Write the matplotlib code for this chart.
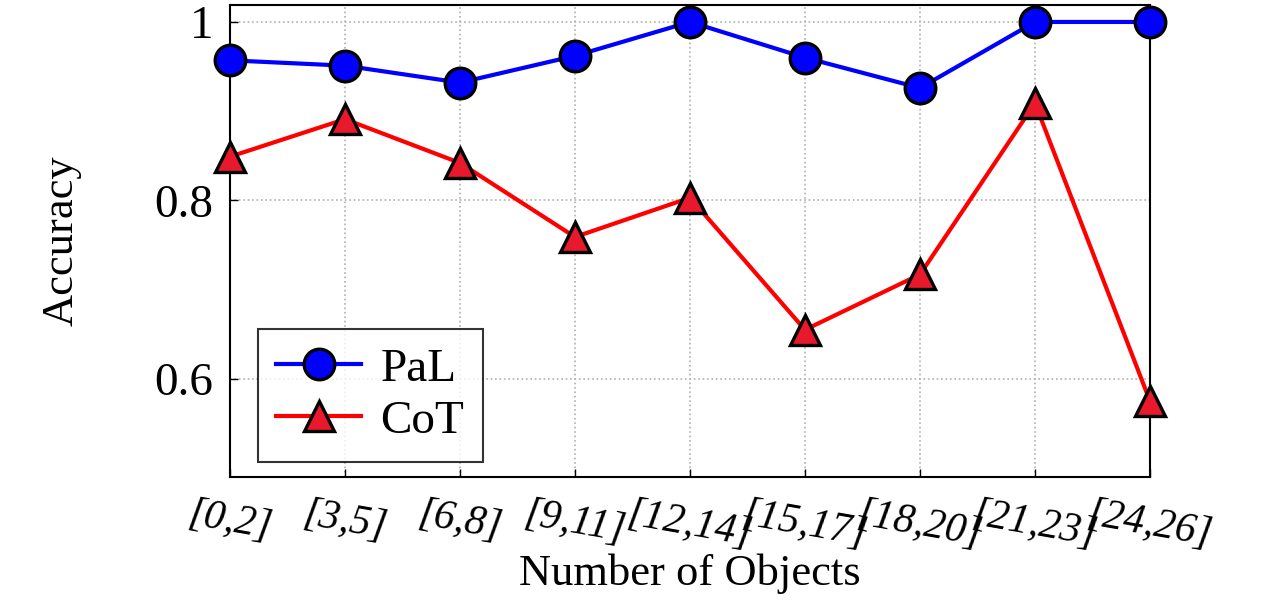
import matplotlib.pyplot as plt

plt.rcParams['font.family'] = ['Liberation Serif', 'DejaVu Serif']

bins = ["[0,2]", "[3,5]", "[6,8]", "[9,11]", "[12,14]", "[15,17]", "[18,20]", "[21,23]", "[24,26]"]
pal = [0.957, 0.951, 0.932, 0.962, 1.0, 0.960, 0.926, 1.0, 1.0]
cot = [0.849, 0.891, 0.842, 0.759, 0.803, 0.655, 0.717, 0.909, 0.575]

fig = plt.figure(figsize=(12.81, 6.06), dpi=100)
ax = fig.add_axes([230 / 1281, 1 - 477 / 606, (1150 - 230) / 1281, (477 - 5) / 606])

x = list(range(len(bins)))
ax.plot(x, pal, color='blue', lw=3, marker='o', ms=22, mfc='blue', mec='black', mew=2.4,
        label='PaL', clip_on=False, zorder=3)
ax.plot(x, cot, color='red', lw=3, marker='^', ms=22, mfc='#e8192c', mec='black', mew=2.4,
        label='CoT', clip_on=False, zorder=3)

ax.set_xlim(0, 8)
ax.set_ylim(0.49, 1.019)
ax.set_yticks([0.6, 0.8, 1.0])
ax.set_yticklabels(['0.6', '0.8', '1'], fontsize=34)
ax.set_xticks(x)
ax.set_xticklabels(bins, fontsize=30, style='italic', rotation=-10, ha='center')
ax.tick_params(direction='in', length=6, width=1, pad=12)
ax.grid(True, linestyle=':', color='#b0b0b0', lw=1.2)
for s in ax.spines.values():
    s.set_linewidth(1.5)

ax.set_xlabel('Number of Objects', fontsize=32, labelpad=0)
ax.set_ylabel('Accuracy', fontsize=32, labelpad=52)

leg = ax.legend(loc='lower left', bbox_to_anchor=(0.03, 0.032), borderaxespad=0, fontsize=34,
                frameon=True, fancybox=False, edgecolor='black', handlelength=1.8, borderpad=0.4,
                labelspacing=0.2, handletextpad=0.4)
leg.get_frame().set_linewidth(1.5)

fig.savefig('out.png', dpi=100)
